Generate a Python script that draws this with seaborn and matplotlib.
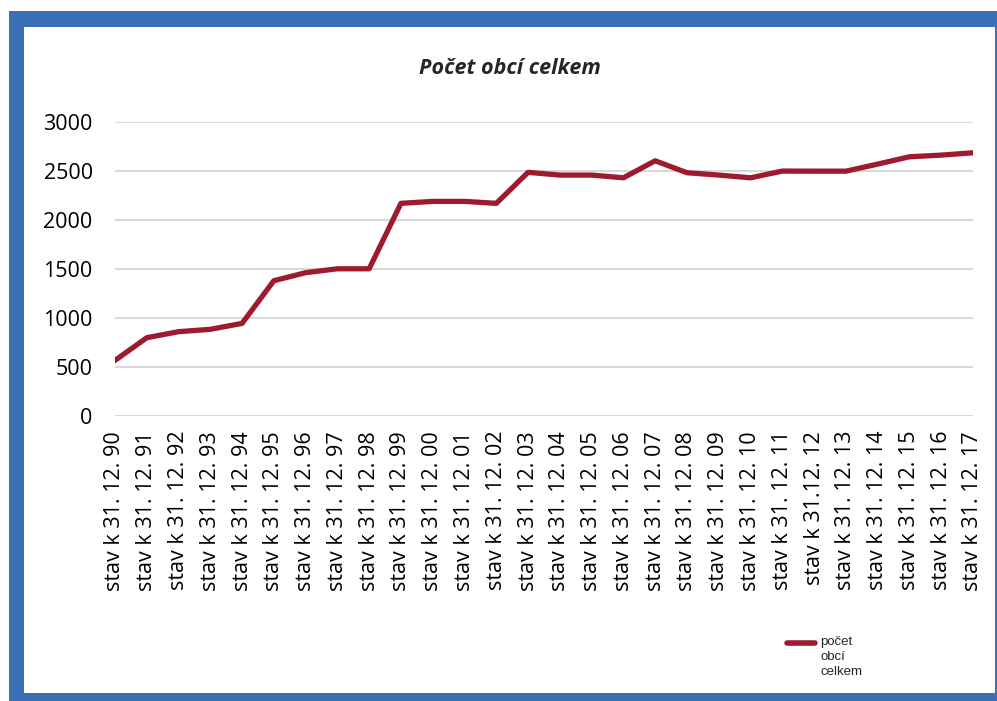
import numpy as np
import matplotlib
matplotlib.use("Agg")
import matplotlib.pyplot as plt
import seaborn as sns
import pandas as pd
from matplotlib.patches import Rectangle
from matplotlib.lines import Line2D

# data
years = ['90', '91', '92', '93', '94', '95', '96', '97', '98', '99',
         '00', '01', '02', '03', '04', '05', '06', '07', '08', '09',
         '10', '11', '12', '13', '14', '15', '16', '17']
labels = ['stav k 31. 12. ' + y for y in years]
labels[22] = 'stav k 31.12. 12'
obce = [565, 797, 859, 883, 944, 1380, 1462, 1502, 1502, 2171,
        2191, 2191, 2171, 2488, 2460, 2460, 2432, 2606, 2484, 2460,
        2432, 2501, 2500, 2500, 2572, 2647, 2664, 2688]
yticks = [0, 500, 1000, 1500, 2000, 2500, 3000]

df = pd.DataFrame({'label': labels, 'value': obce})

sns.set_theme(style='white')
plt.rcParams['font.family'] = ['Open Sans', 'DejaVu Sans']

line_color = '#9E1A2E'
blue = '#3A70B5'

fig = plt.figure(figsize=(9.97, 7.01), dpi=100)
ax = fig.add_axes([0.1153, 0.407, 0.8606, 0.4186])

sns.lineplot(data=df, x='label', y='value', sort=False, color=line_color,
             linewidth=3.8, ax=ax, legend=False)

ax.set_xlim(0, len(labels) - 1)
ax.set_ylim(0, 3000)
ax.set_yticks(yticks)
ax.set_yticklabels([str(t) for t in yticks], fontsize=15.5, color='#000000')
ax.set_xticks(range(len(labels)))
ax.set_xticklabels(labels, rotation=90, fontsize=15.5, color='#000000')
ax.tick_params(axis='y', length=0, pad=16)
ax.tick_params(axis='x', length=0, pad=11)
ax.set_xlabel('')
ax.set_ylabel('')
ax.grid(axis='y', color='#D9D9D9', linewidth=1.5)
ax.grid(axis='x', visible=False)
ax.set_axisbelow(True)
for s in ax.spines.values():
    s.set_visible(False)

fig.text(0.511, 0.902, 'Počet obcí celkem', ha='center', va='center',
         fontsize=15.5, fontweight='bold', fontstyle='italic')

# legend drawn by hand, bottom right
fig.add_artist(Line2D([787 / 997, 815 / 997], [1 - 643 / 701, 1 - 643 / 701],
                      color=line_color, linewidth=4, solid_capstyle='round'))
fig.text(820 / 997, 1 - 636 / 701, 'počet\nobcí\ncelkem', ha='left', va='top',
         fontsize=9.5, family=['Liberation Sans', 'DejaVu Sans'], linespacing=1.35)

# blue frame round the chart
W, H = 997, 701
frame = [(9, 0, 15, H - 11),          # left
         (9, H - 27, W - 9, 16),      # top
         (9, 0, W - 9, 8),            # bottom
         (995, 0, 2, H - 11)]         # right
for x, y, w, h in frame:
    fig.patches.append(Rectangle((x / W, y / H), w / W, h / H, transform=fig.transFigure,
                                 facecolor=blue, edgecolor='none', zorder=0))

fig.savefig('out.png', dpi=100, facecolor='white')
